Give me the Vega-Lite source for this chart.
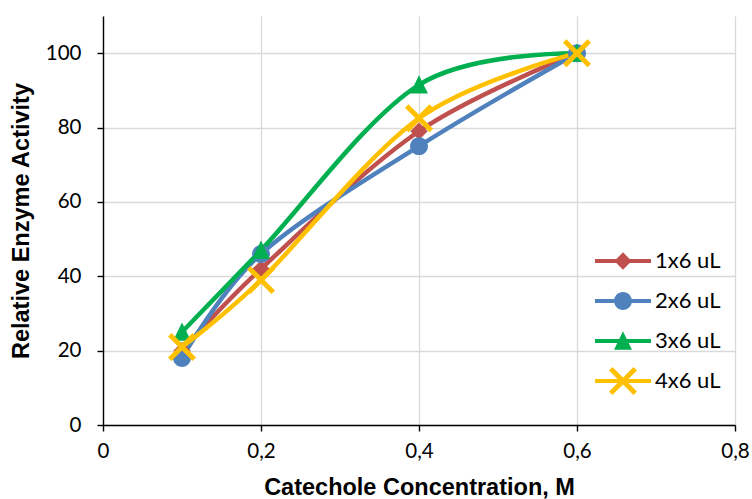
{
  "$schema": "https://vega.github.io/schema/vega-lite/v6.json",
  "width": 632,
  "height": 409,
  "autosize": "none",
  "padding": {"left": 103, "top": 16, "right": 17, "bottom": 74},
  "background": "white",
  "config": {"view": {"stroke": null}, "font": "Lato"},
  "data": {
    "values": [
      {"series": "1x6 uL", "conc": 0.1, "activity": 20},
      {"series": "1x6 uL", "conc": 0.2, "activity": 42},
      {"series": "1x6 uL", "conc": 0.4, "activity": 79},
      {"series": "1x6 uL", "conc": 0.6, "activity": 100},
      {"series": "2x6 uL", "conc": 0.1, "activity": 18},
      {"series": "2x6 uL", "conc": 0.2, "activity": 46},
      {"series": "2x6 uL", "conc": 0.4, "activity": 75},
      {"series": "2x6 uL", "conc": 0.6, "activity": 100},
      {"series": "3x6 uL", "conc": 0.1, "activity": 25},
      {"series": "3x6 uL", "conc": 0.2, "activity": 47},
      {"series": "3x6 uL", "conc": 0.4, "activity": 91.5},
      {"series": "3x6 uL", "conc": 0.6, "activity": 100},
      {"series": "4x6 uL", "conc": 0.1, "activity": 21},
      {"series": "4x6 uL", "conc": 0.2, "activity": 39},
      {"series": "4x6 uL", "conc": 0.4, "activity": 82.5},
      {"series": "4x6 uL", "conc": 0.6, "activity": 100}
    ]
  },
  "encoding": {
    "x": {
      "field": "conc",
      "type": "quantitative",
      "scale": {"domain": [0, 0.8], "nice": false},
      "axis": {
        "title": "Catechole Concentration, M",
        "values": [0, 0.2, 0.4, 0.6, 0.8],
        "labelExpr": "replace(format(datum.value, '.1~f'), '.', ',')",
        "grid": true,
        "gridColor": "#d9d9d9",
        "gridWidth": 1.3,
        "domainColor": "black",
        "domainWidth": 1.4,
        "tickColor": "black",
        "tickWidth": 1.4,
        "tickSize": 6,
        "labelFont": "Lato",
        "labelFontSize": 20.5,
        "labelColor": "black",
        "labelPadding": 10,
        "labelFlush": false,
        "titleFont": "Liberation Sans",
        "titleFontSize": 23.5,
        "titleFontWeight": "bold",
        "titleColor": "black",
        "titlePadding": 14
      }
    },
    "y": {
      "field": "activity",
      "type": "quantitative",
      "scale": {"domain": [0, 110], "nice": false},
      "axis": {
        "title": "Relative Enzyme Activity",
        "values": [0, 20, 40, 60, 80, 100],
        "grid": true,
        "gridColor": "#d9d9d9",
        "gridWidth": 1.3,
        "domainColor": "black",
        "domainWidth": 1.4,
        "tickColor": "black",
        "tickWidth": 1.4,
        "tickSize": 6,
        "labelFont": "Lato",
        "labelFontSize": 20.5,
        "labelColor": "black",
        "labelPadding": 16,
        "titleFont": "Liberation Sans",
        "titleFontSize": 23.5,
        "titleFontWeight": "bold",
        "titleColor": "black",
        "titlePadding": 12
      }
    },
    "color": {
      "field": "series",
      "type": "nominal",
      "scale": {
        "domain": ["1x6 uL", "2x6 uL", "3x6 uL", "4x6 uL"],
        "range": ["#C0504D", "#4F81BD", "#00B050", "#FFC000"]
      }
    }
  },
  "resolve": {"legend": {"color": "independent", "shape": "independent"}},
  "layer": [
    {
      "mark": {"type": "line", "interpolate": "cardinal", "strokeWidth": 4.5},
      "encoding": {
        "color": {
          "field": "series",
          "type": "nominal",
          "legend": {
            "orient": "none",
            "legendX": 506,
            "legendY": 231,
            "title": null,
            "symbolSize": 784,
            "labelFont": "Lato",
            "labelFontSize": 22,
            "labelColor": "black",
            "rowPadding": 15,
            "labelOffset": 18,
            "encode": {
              "symbols": {
                "update": {
                  "shape": {"signal": "['M-2,-0.15H2V0.15H-2Z M0,-0.62L0.62,0L0,0.62L-0.62,0Z', 'M-2,-0.15H2V0.15H-2Z M-0.64,0A0.64,0.64,0,1,1,0.64,0A0.64,0.64,0,1,1,-0.64,0Z', 'M-2,-0.15H2V0.15H-2Z M0,-0.69L0.64,0.62L-0.64,0.62Z', 'M-2,-0.15H2V0.15H-2Z M-1,-0.75L-0.75,-1L1,0.75L0.75,1Z M-0.75,1L-1,0.75L0.75,-1L1,-0.75Z'][datum.index]"},
                  "fill": {"scale": "color", "field": "value"},
                  "stroke": {"value": "transparent"},
                  "strokeWidth": {"value": 0},
                  "opacity": {"value": 1},
                  "size": {"value": 784}
                }
              }
            }
          }
        }
      }
    },
    {
      "mark": {"type": "point", "filled": true, "size": 784, "opacity": 1, "strokeWidth": 0},
      "encoding": {
        "color": {"field": "series", "type": "nominal", "legend": null},
        "shape": {
          "field": "series",
          "type": "nominal",
          "scale": {
            "domain": ["1x6 uL", "2x6 uL", "3x6 uL", "4x6 uL"],
            "range": [
              "M0,-0.62L0.62,0L0,0.62L-0.62,0Z",
              "M-0.64,0A0.64,0.64,0,1,1,0.64,0A0.64,0.64,0,1,1,-0.64,0Z",
              "M0,-0.69L0.64,0.62L-0.64,0.62Z",
              "M-1,-0.75L-0.75,-1L1,0.75L0.75,1Z M-0.75,1L-1,0.75L0.75,-1L1,-0.75Z"
            ]
          },
          "legend": null
        }
      }
    }
  ]
}
